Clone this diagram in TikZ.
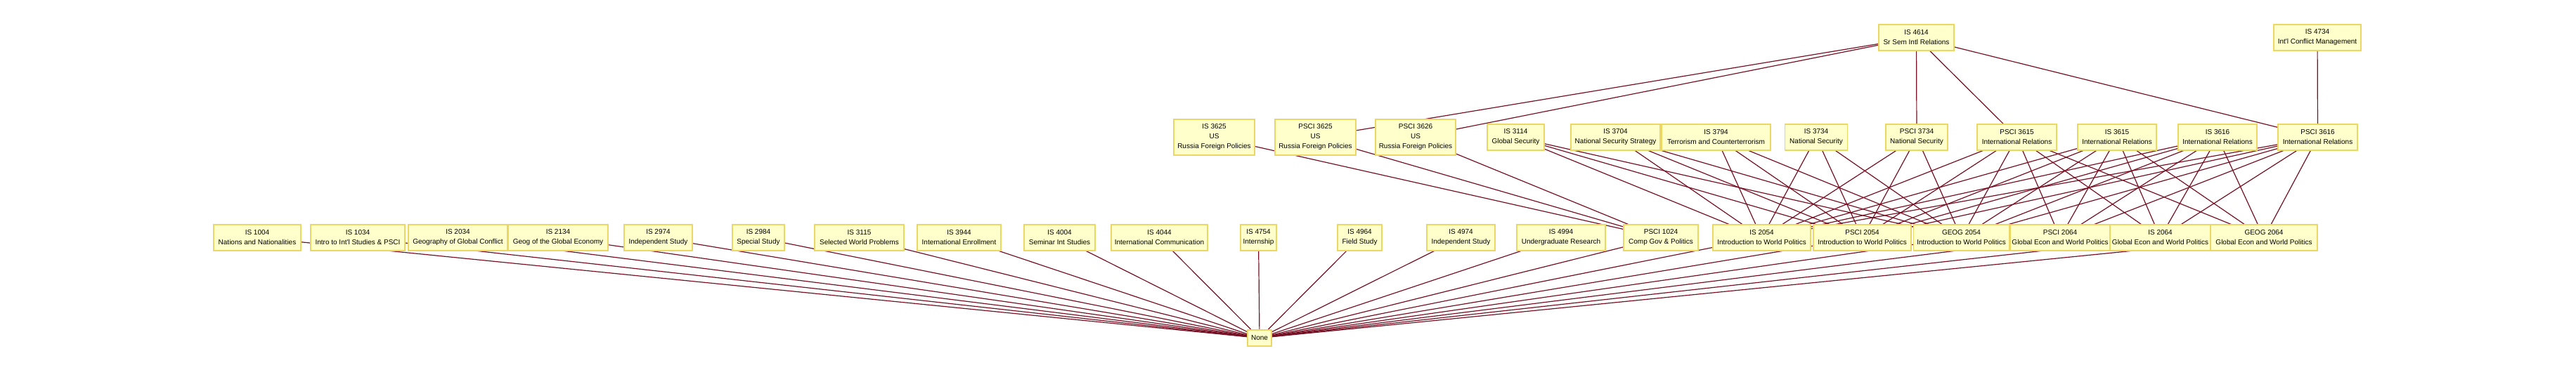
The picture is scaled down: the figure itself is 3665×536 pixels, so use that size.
\documentclass[tikz,border=0pt]{standalone}
\usepackage{fontspec}
\setmainfont{Liberation Sans}
\definecolor{boxfill}{RGB}{255,255,204}
\definecolor{boxborder}{RGB}{236,214,100}
\definecolor{linkred}{RGB}{118,16,36}
\pgfdeclarelayer{background}
\pgfsetlayers{background,main}
\tikzset{
  course/.style={draw=boxborder, fill=boxfill, line width=1.6pt, inner sep=0pt,
    align=center, font=\fontsize{10}{14}\selectfont, minimum height=37pt},
  tall/.style={minimum height=51pt},
  link/.style={draw=linkred, line width=1.2pt},
}
\begin{document}
\begin{tikzpicture}[x=1pt,y=-1pt]
\useasboundingbox (0,0) rectangle (3665,536);
% top row
\node[course, minimum width=107pt] (is4614) at (2726.5,53.5) {IS 4614\\Sr Sem Intl Relations};
\node[course, minimum width=124pt] (is4734) at (3297,53.5) {IS 4734\\Int\textquotesingle l Conflict Management};
% middle row
\node[course, tall, minimum width=115pt] (is3625) at (1727.5,195.5) {IS 3625\\US\\Russia Foreign Policies};
\node[course, tall, minimum width=115pt] (psci3625) at (1871.5,195.5) {PSCI 3625\\US\\Russia Foreign Policies};
\node[course, tall, minimum width=114pt] (psci3626) at (2014,195.5) {PSCI 3626\\US\\Russia Foreign Policies};
\node[course, minimum width=81pt] (is3114) at (2156.5,195.5) {IS 3114\\Global Security};
\node[course, minimum width=127pt] (is3704) at (2298.5,195.5) {IS 3704\\National Security Strategy};
\node[course, minimum width=155pt] (is3794) at (2441.5,195.5) {IS 3794\\Terrorism and Counterterrorism};
\node[course, minimum width=89pt] (is3734) at (2584,195.5) {IS 3734\\National Security};
\node[course, minimum width=88pt] (psci3734) at (2727,195.5) {PSCI 3734\\National Security};
\node[course, minimum width=113pt] (psci3615) at (2869.5,195.5) {PSCI 3615\\International Relations};
\node[course, minimum width=112pt] (is3615) at (3012,195.5) {IS 3615\\International Relations};
\node[course, minimum width=112pt] (is3616) at (3155,195.5) {IS 3616\\International Relations};
\node[course, minimum width=113pt] (psci3616) at (3297.5,195.5) {PSCI 3616\\International Relations};
% bottom row
\node[course, minimum width=124pt] (is1004) at (366,338.5) {IS 1004\\Nations and Nationalities};
\node[course, minimum width=134pt] (is1034) at (509,338.5) {IS 1034\\Intro to Int\textquotesingle l Studies \& PSCI};
\node[course, minimum width=141pt] (is2034) at (651.5,338.5) {IS 2034\\Geography of Global Conflict};
\node[course, minimum width=142pt] (is2134) at (794,338.5) {IS 2134\\Geog of the Global Economy};
\node[course, minimum width=97pt] (is2974) at (936.5,338.5) {IS 2974\\Independent Study};
\node[course, minimum width=74pt] (is2984) at (1079,338.5) {IS 2984\\Special Study};
\node[course, minimum width=127pt] (is3115) at (1222.5,338.5) {IS 3115\\Selected World Problems};
\node[course, minimum width=119pt] (is3944) at (1364.5,338.5) {IS 3944\\International Enrollment};
\node[course, minimum width=101pt] (is4004) at (1507.5,338.5) {IS 4004\\Seminar Int Studies};
\node[course, minimum width=137pt] (is4044) at (1649.5,338.5) {IS 4044\\International Communication};
\node[course, minimum width=51pt] (is4754) at (1790.5,338.5) {IS 4754\\Internship};
\node[course, minimum width=63pt] (is4964) at (1934.5,338.5) {IS 4964\\Field Study};
\node[course, minimum width=97pt] (is4974) at (2078.5,338.5) {IS 4974\\Independent Study};
\node[course, minimum width=126pt] (is4994) at (2221,338.5) {IS 4994\\Undergraduate Research};
\node[course, minimum width=106pt] (psci1024) at (2363,338.5) {PSCI 1024\\Comp Gov \& Politics};
\node[course, minimum width=139pt] (is2054) at (2506.5,338.5) {IS 2054\\Introduction to World Politics};
\node[course, minimum width=139pt] (psci2054) at (2649.5,338.5) {PSCI 2054\\Introduction to World Politics};
\node[course, minimum width=136pt] (geog2054) at (2790.5,338.5) {GEOG 2054\\Introduction to World Politics};
\node[course, minimum width=142pt] (psci2064) at (2931,338.5) {PSCI 2064\\Global Econ and World Politics};
\node[course, minimum width=143pt] (is2064) at (3073.5,338.5) {IS 2064\\Global Econ and World Politics};
\node[course, minimum width=152pt] (geog2064) at (3221,338.5) {GEOG 2064\\Global Econ and World Politics};
% none
\node[course, minimum width=34pt, minimum height=23pt] (none) at (1792,481.5) {None};
\begin{pgfonlayer}{background}
\fill[white] (0,0) rectangle (3665,536);
\foreach \t in {psci3625,psci3626,psci3734,psci3615,psci3616}
  \draw[link] (is4614.center) -- (\t.center);
\draw[link] (is4734.center) -- (psci3616.center);
\foreach \s in {is3625,psci3625,psci3626}
  \draw[link] (\s.center) -- (psci1024.center);
\foreach \s in {is3114,is3704,is3794,is3734,psci3734}
  \foreach \t in {is2054,psci2054,geog2054}
    \draw[link] (\s.center) -- (\t.center);
\foreach \s in {psci3615,is3615,is3616,psci3616}
  \foreach \t in {is2054,psci2054,geog2054,psci2064,is2064,geog2064}
    \draw[link] (\s.center) -- (\t.center);
\foreach \t in {is1004,is1034,is2034,is2134,is2974,is2984,is3115,is3944,is4004,is4044,is4754,is4964,is4974,is4994,psci1024,is2054,psci2054,geog2054,psci2064,is2064,geog2064}
  \draw[link] (\t.center) -- (none.center);
\end{pgfonlayer}
\end{tikzpicture}
\end{document}
